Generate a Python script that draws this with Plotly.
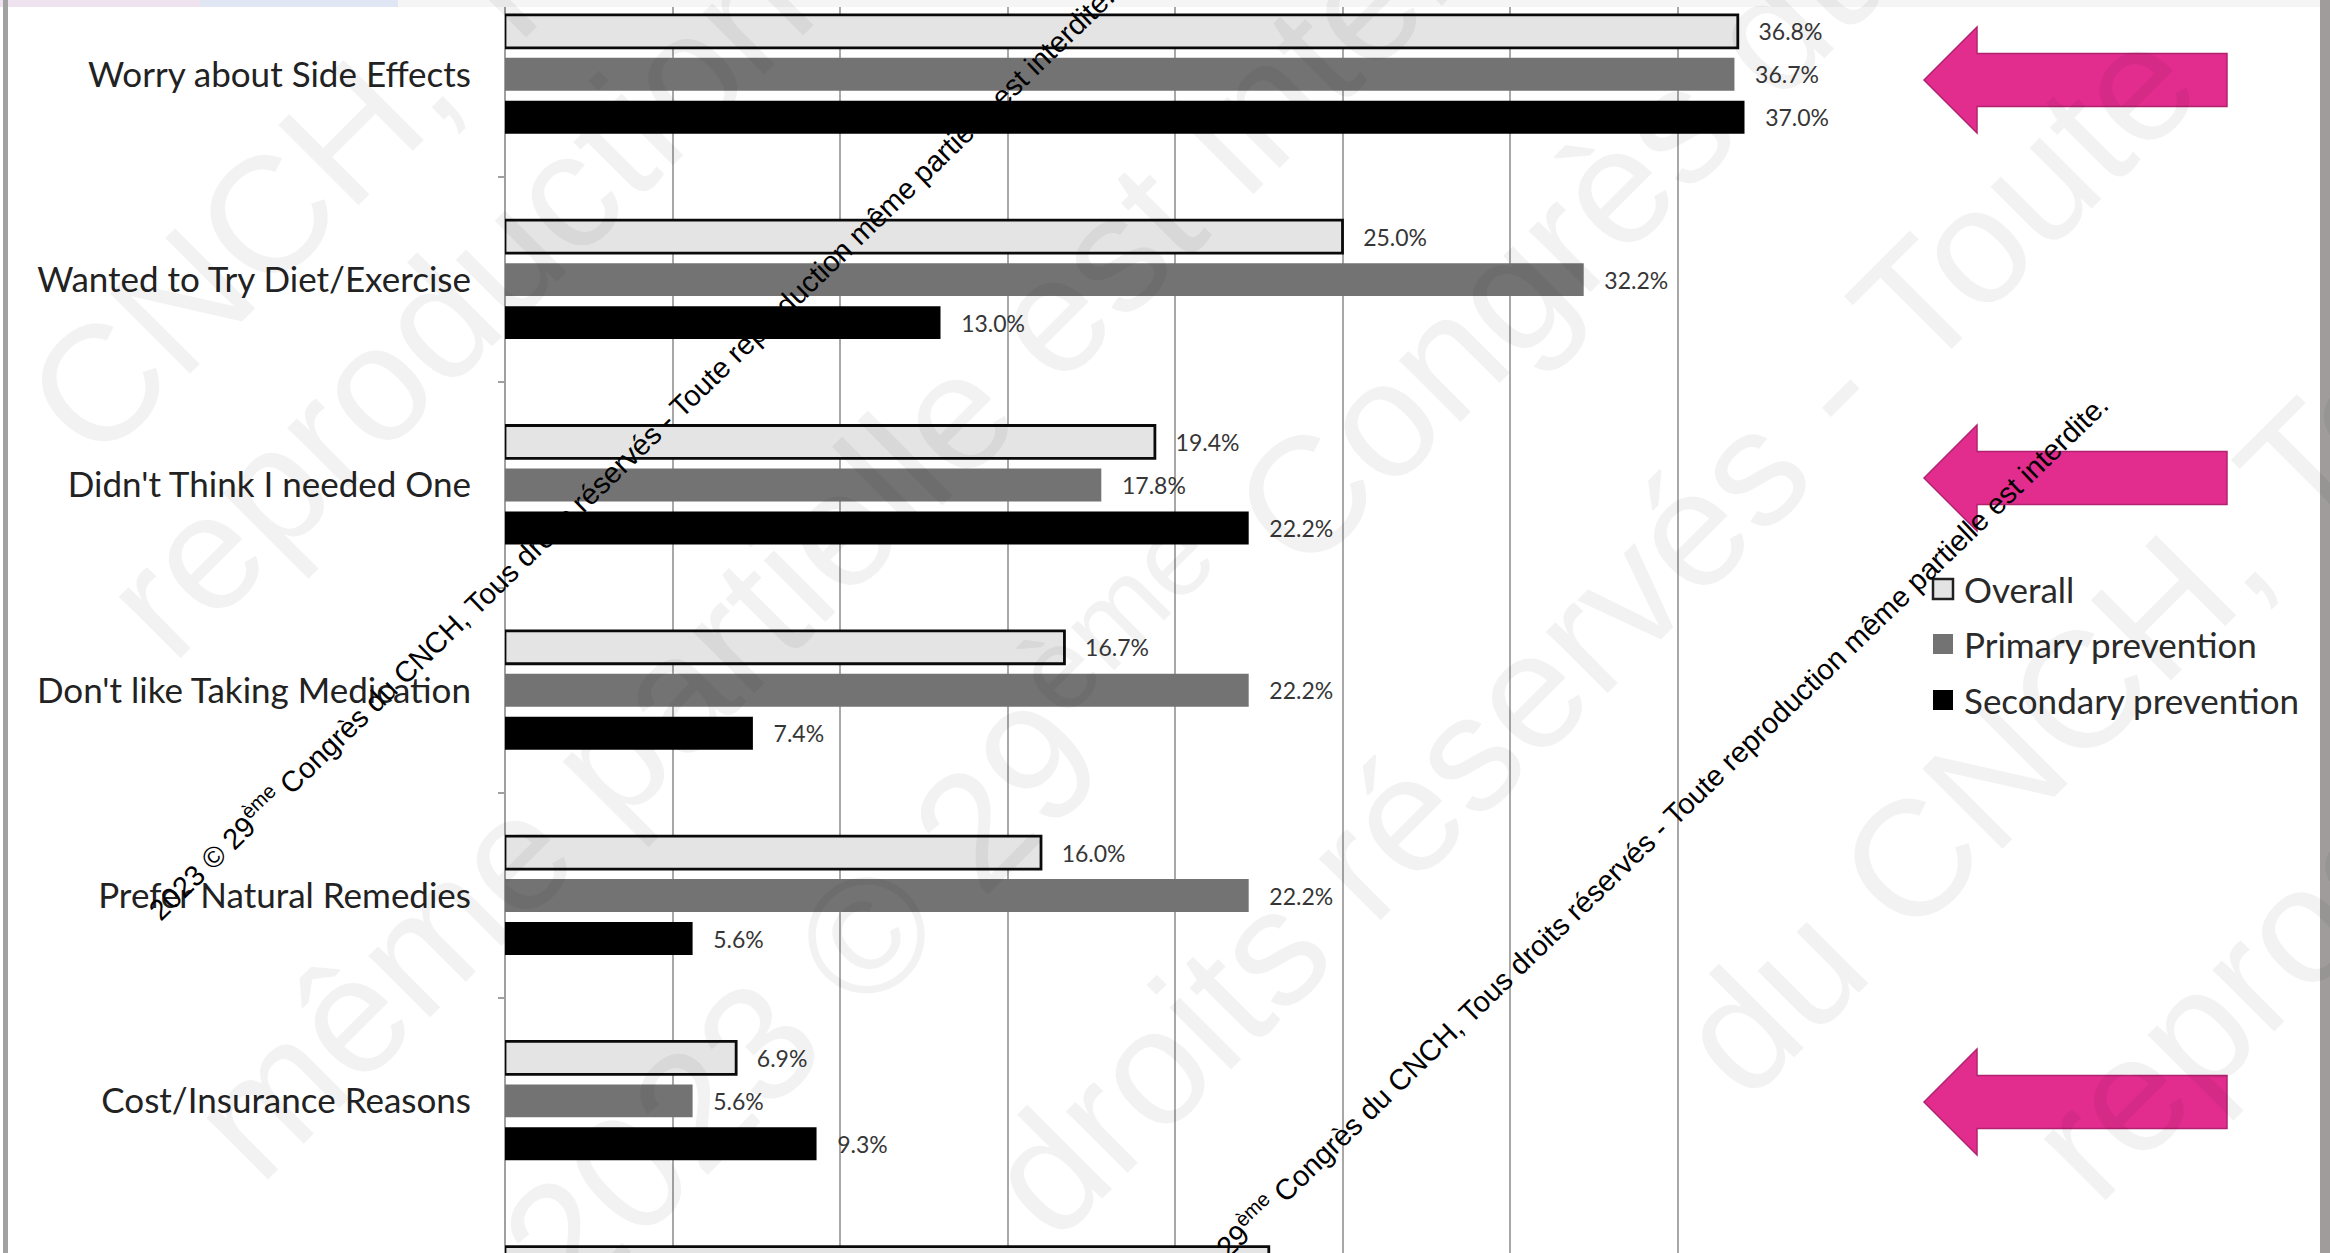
import plotly.graph_objects as go

# ---- data -------------------------------------------------------------
categories = [
    "Worry about Side Effects",
    "Wanted to Try Diet/Exercise",
    "Didn't Think I needed One",
    "Don't like Taking Medication",
    "Prefer Natural Remedies",
    "Cost/Insurance Reasons",
    " ",
]
overall = [36.8, 25.0, 19.4, 16.7, 16.0, 6.9, 22.8]
primary = [36.7, 32.2, 17.8, 22.2, 22.2, 5.6, None]
secondary = [37.0, 13.0, 22.2, 7.4, 5.6, 9.3, None]
series_names = ["Overall", "Primary prevention", "Secondary prevention"]

watermark = ("2023 © 29<sup>ème</sup> Congrès du CNCH, Tous droits réservés - "
             "Toute reproduction même partielle est interdite.")

# ---- canvas geometry ---------------------------------------------------
W, H = 2330, 1253
ML, MR = 505, 485
PW = W - ML - MR


def fx(px):
    """pixel x -> paper x"""
    return (px - ML) / PW


def fy(py):
    """pixel y (from top) -> paper y"""
    return 1 - py / H


LABEL_FONT = "Lato, 'Open Sans', sans-serif"


def labels(vals):
    pad = "\u00a0" * 3
    return [f"{pad}{v:.1f}%" if v is not None else "" for v in vals]


fills = ["#e4e4e4", "#737373", "#000000"]
outlines = [dict(color="#0a0a0a", width=2.8), dict(width=0), dict(width=0)]

fig = go.Figure()
for name, vals, fc, ln in zip(series_names, [overall, primary, secondary], fills, outlines):
    fig.add_trace(go.Bar(
        y=categories, x=vals, name=name, orientation="h",
        marker=dict(color=fc, line=ln), showlegend=False,
        text=labels(vals), textposition="outside", constraintext="none",
        textfont=dict(family=LABEL_FONT, size=23, color="#363636"),
        cliponaxis=True, hoverinfo="skip",
    ))

# ---- decorations: slide borders, arrows, legend, watermark ---------------
shapes = []
# top strip of the slide
shapes.append(dict(type="rect", xref="paper", yref="paper", x0=fx(0), x1=fx(200),
                   y0=fy(7), y1=fy(0), fillcolor="#efe3f0", line=dict(width=0), layer="above"))
shapes.append(dict(type="rect", xref="paper", yref="paper", x0=fx(200), x1=fx(398),
                   y0=fy(7), y1=fy(0), fillcolor="#e1e6f4", line=dict(width=0), layer="above"))
shapes.append(dict(type="rect", xref="paper", yref="paper", x0=fx(398), x1=fx(2320),
                   y0=fy(7), y1=fy(0), fillcolor="#f5f5f5", line=dict(width=0), layer="above"))
# left and right frame lines
shapes.append(dict(type="rect", xref="paper", yref="paper", x0=fx(3), x1=fx(8),
                   y0=0, y1=1, fillcolor="#a2a2a2", line=dict(width=0), layer="above"))
shapes.append(dict(type="rect", xref="paper", yref="paper", x0=fx(2320), x1=fx(2330),
                   y0=0, y1=1, fillcolor="#a09c9c", line=dict(width=0), layer="above"))


def arrow(yc):
    tip, base, end = 1924, 1977, 2227
    hh, sh = 53, 26.5
    pts = [(tip, yc), (base, yc - hh), (base, yc - sh), (end, yc - sh),
           (end, yc + sh), (base, yc + sh), (base, yc + hh)]
    path = "M " + " L ".join(f"{fx(x):.5f},{fy(y):.5f}" for x, y in pts) + " Z"
    return dict(type="path", xref="paper", yref="paper", path=path,
                fillcolor="#e22d8f", line=dict(color="#b1236f", width=1.5), layer="above")


for yc in (80, 478, 1102):
    shapes.append(arrow(yc))

annotations = []

# legend: square swatch + label per series
legend_rows = [589, 644, 700]
for name, fc, ln, yc in zip(series_names, fills, outlines, legend_rows):
    lw = ln.get("width", 0)
    shapes.append(dict(type="rect", xref="paper", yref="paper",
                       x0=fx(1933), x1=fx(1953), y0=fy(yc + 10), y1=fy(yc - 10),
                       fillcolor=fc,
                       line=dict(color="#202020" if lw else fc, width=2.5 if lw else 0),
                       layer="above"))
    annotations.append(dict(text=name, x=fx(1962), y=fy(yc), xref="paper", yref="paper",
                            showarrow=False, xanchor="left", yanchor="middle",
                            font=dict(family=LABEL_FONT, size=35, color="#2a2a2a")))

# large faint background lettering
big = [
    ("CNCH, Tous", 379, 104),
    ("reproduction", 456, 302),
    ("même partielle est interdite.", 936, 431),
    ("2023 © 29<sup>ème</sup> Congrès du", 1189, 594),
    ("droits réservés - Toute", 1590, 630),
    ("du CNCH, Tous", 2110, 661),
    ("reproduction", 2381, 844),
]
for txt, x, y in big:
    annotations.append(dict(text=txt, x=fx(x), y=fy(y), xref="paper", yref="paper",
                            showarrow=False, textangle=-45, xanchor="center", yanchor="middle",
                            font=dict(family="Liberation Sans, Arial, sans-serif", size=165,
                                      color="rgba(0,0,0,0.05)")))
# copyright lines
for x, y in ((630, 452), (1624, 860)):
    annotations.append(dict(text=watermark, x=fx(x), y=fy(y), xref="paper", yref="paper",
                            showarrow=False, textangle=-44, xanchor="center", yanchor="middle",
                            font=dict(family="Liberation Sans, Arial, sans-serif", size=29,
                                      color="#000000")))

fig.update_layout(
    width=W, height=H,
    margin=dict(l=ML, r=MR, t=0, b=0, pad=0),
    paper_bgcolor="white", plot_bgcolor="white",
    barmode="group", bargap=0.372, bargroupgap=0.233,
    showlegend=False,
    xaxis=dict(range=[0, 40], dtick=5, showgrid=True, gridcolor="#a8a8a8", gridwidth=2,
               zeroline=True, zerolinecolor="#a0a0a0", zerolinewidth=2,
               showticklabels=False, ticks="", fixedrange=True),
    yaxis=dict(type="category", categoryorder="array", categoryarray=categories,
               range=[5.741, -0.362], autorange=False, showgrid=False, zeroline=False,
               ticks="outside", tickson="boundaries", ticklen=6, tickwidth=2,
               tickcolor="#a0a0a0", ticklabelstandoff=33,
               tickfont=dict(family=LABEL_FONT, size=35, color="#222222")),
    shapes=shapes,
    annotations=annotations,
)

fig.write_html("out.html")
